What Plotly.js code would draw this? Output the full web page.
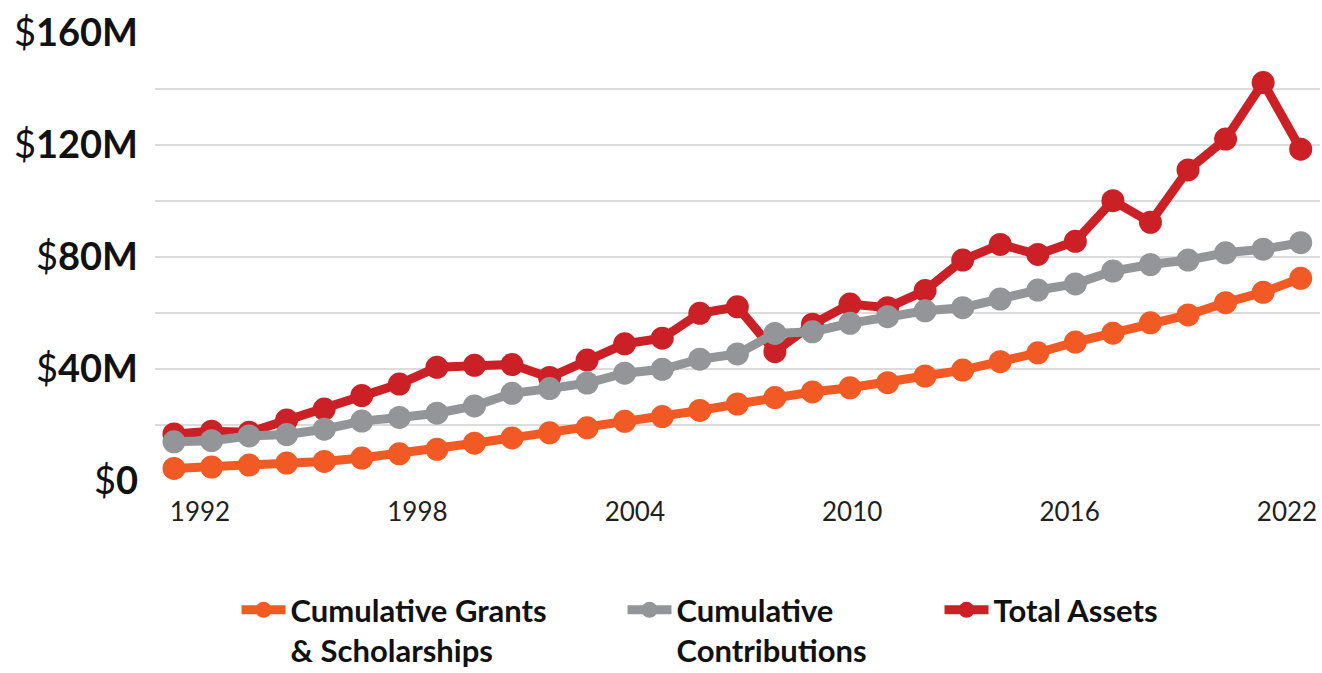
<!DOCTYPE html>
<html>
<head>
<meta charset="utf-8">
<script src="https://cdn.plot.ly/plotly-3.0.1.min.js"></script>
<style>
  html, body { margin: 0; padding: 0; background: #ffffff; }
  #chart { width: 1322px; height: 673px; }
</style>
</head>
<body>
<div id="chart"></div>
<script>
// Years (x categories)
const years = [1992, 1993, 1994, 1995, 1996, 1997, 1998, 1999, 2000, 2001,
               2002, 2003, 2004, 2005, 2006, 2007, 2008, 2009, 2010, 2011,
               2012, 2013, 2014, 2015, 2016, 2017, 2018, 2019, 2020, 2021, 2022];

// Values in millions of dollars
const grantsScholarships = [4.5, 5.0, 5.7, 6.4, 7.0, 8.2, 9.7, 11.3, 13.5, 15.4,
                            17.2, 19.0, 21.3, 23.0, 25.2, 27.5, 29.8, 31.8, 33.3, 35.1,
                            37.5, 39.6, 42.6, 45.8, 49.6, 52.8, 56.5, 59.3, 63.7, 67.4, 72.4];
const contributions = [14.0, 14.4, 16.1, 16.6, 18.5, 21.4, 22.7, 24.2, 26.8, 31.3,
                       33.0, 35.0, 38.5, 39.9, 43.5, 45.4, 52.7, 53.3, 56.3, 58.7,
                       60.8, 61.9, 65.0, 68.2, 70.4, 75.0, 77.3, 78.9, 81.5, 82.8, 85.1];
const totalAssets = [16.8, 17.8, 17.4, 21.8, 25.7, 30.5, 34.6, 40.6, 41.3, 41.6,
                     37.0, 43.2, 49.0, 51.0, 59.9, 62.2, 46.2, 56.0, 63.2, 61.9,
                     68.0, 78.9, 84.5, 80.9, 85.6, 100.1, 92.4, 111.1, 122.1, 142.3, 118.5];

// Series names
const seriesNames = ['Cumulative Grants<br>& Scholarships', 'Cumulative<br>Contributions', 'Total Assets'];

// Axis ticks
const yTickVals = [0, 20, 40, 60, 80, 100, 120, 140, 160];
const yTickText = ['$<b>0</b>', '', '$<b>40M</b>', '', '$<b>80M</b>', '', '$<b>120M</b>', '', '$<b>160M</b>'];
const xTickVals = [1992, 1998, 2004, 2010, 2016, 2022];
const xTickText = ['1992', '1998', '2004', '2010', '2016', '2022'];

const ORANGE = '#F15A24';
const GRAY = '#939598';
const RED = '#CC2027';

function series(name, yvals, color, legendId) {
  return {
    type: 'scatter',
    mode: 'lines+markers',
    name: name,
    x: years,
    y: yvals,
    line: { color: color, width: 9 },
    marker: { color: color, size: 23 },
    cliponaxis: false,
    legend: legendId,
    hoverinfo: 'skip'
  };
}

const data = [
  series(seriesNames[2], totalAssets, RED, 'legend3'),
  series(seriesNames[1], contributions, GRAY, 'legend2'),
  series(seriesNames[0], grantsScholarships, ORANGE, 'legend'),
  // invisible carrier trace for the year labels on the label axis
  {
    type: 'scatter', mode: 'markers', x: xTickVals, y: xTickVals.map(() => 0),
    xaxis: 'x2', yaxis: 'y', marker: { opacity: 0 }, showlegend: false, hoverinfo: 'skip'
  }
];

function legendAt(xp) {
  return {
    orientation: 'v',
    x: xp,
    xanchor: 'left',
    y: -0.228,
    yanchor: 'top',
    valign: 'top',
    bgcolor: 'rgba(0,0,0,0)',
    font: { size: 31, color: '#111111', weight: 700 },
    itemwidth: 44
  };
}

const layout = {
  width: 1322,
  height: 673,
  margin: { l: 155, r: 2, t: 33, b: 192, autoexpand: false },
  paper_bgcolor: '#ffffff',
  plot_bgcolor: '#ffffff',
  font: { family: 'Lato, "Open Sans", sans-serif', color: '#111111' },
  showlegend: true,
  xaxis: {
    range: [1991.494, 2022.514],
    showgrid: false,
    zeroline: false,
    showline: false,
    showticklabels: false,
    ticks: ''
  },
  xaxis2: {
    overlaying: 'x',
    anchor: 'y',
    side: 'bottom',
    range: [1990.758, 2022.911],
    tickmode: 'array',
    tickvals: xTickVals,
    ticktext: xTickText,
    tickfont: { size: 26, color: '#231f20' },
    ticklabelstandoff: 13,
    showgrid: false,
    zeroline: false,
    showline: false,
    ticks: ''
  },
  yaxis: {
    range: [0, 160],
    tickmode: 'array',
    tickvals: yTickVals,
    ticktext: yTickText,
    tickfont: { size: 38, color: '#111111' },
    showgrid: true,
    gridcolor: '#dcdcdc',
    gridwidth: 2.5,
    zeroline: false,
    showline: false,
    ticks: '',
    ticklabelstandoff: 16
  },
  legend: legendAt(0.07),
  legend2: legendAt(0.4013),
  legend3: legendAt(0.6734)
};

Plotly.newPlot('chart', data, layout, { displayModeBar: false, staticPlot: true });
</script>
</body>
</html>
